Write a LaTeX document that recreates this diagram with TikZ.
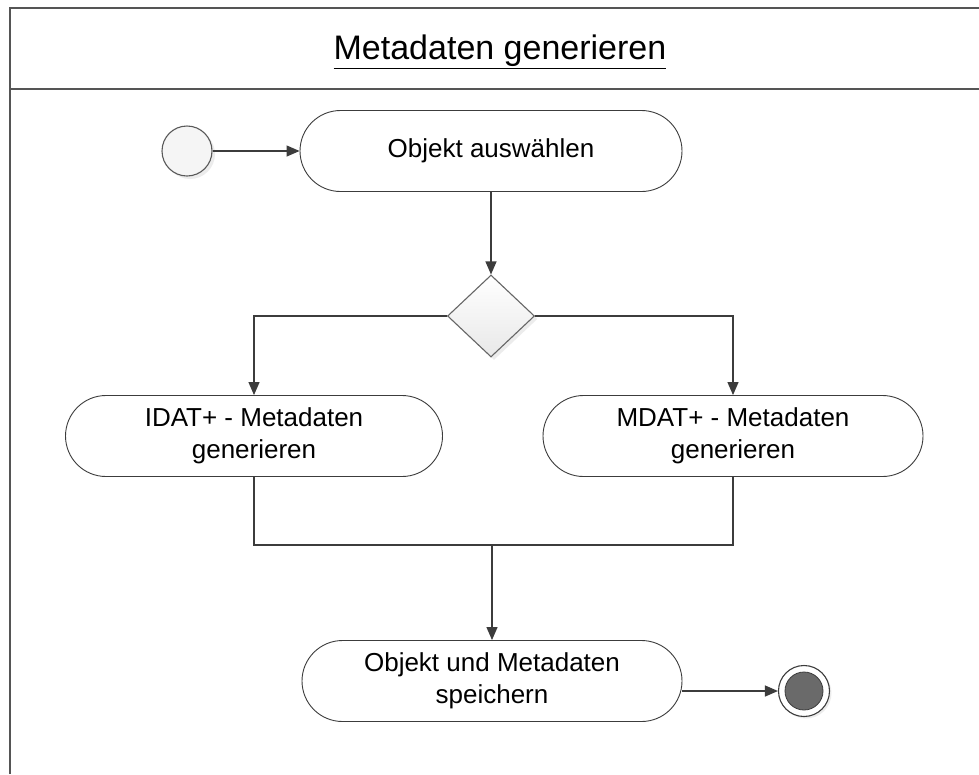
\documentclass[tikz,border=0pt]{standalone}
\usepackage{fontspec}
\setmainfont{Liberation Sans}
\usetikzlibrary{arrows.meta,shapes.misc,shapes.geometric,shadows,calc}

\definecolor{linegray}{HTML}{3C3C3C}
\definecolor{framegray}{HTML}{555555}
\definecolor{endfill}{HTML}{6A6A6A}

\tikzset{
  activity/.style={rounded rectangle, draw=linegray, line width=0.9pt, fill=white,
    minimum height=81pt, align=center, inner sep=0pt,
    font=\fontsize{26}{32}\selectfont},
  flow/.style={draw=linegray, line width=1.2pt},
  arr/.style={flow, -{Triangle[length=13pt,width=11pt]}},
  decision/.style={diamond, draw=gray!80!black, line width=1.1pt,
    top color=white, bottom color=gray!18, minimum width=87pt, minimum height=82pt,
    inner sep=0pt, drop shadow={shadow xshift=3pt, shadow yshift=-3pt, opacity=0.15}},
  startnode/.style={circle, draw=gray!70!black, line width=1.1pt, fill=gray!8,
    minimum size=50pt, inner sep=0pt,
    drop shadow={shadow xshift=3pt, shadow yshift=-3pt, opacity=0.15}},
  framelines/.style={draw=framegray, line width=2pt},
}

\begin{document}
\begin{tikzpicture}[x=1pt, y=-1pt]
  \useasboundingbox (0,0) rectangle (979,774);
  \fill[white] (0,0) rectangle (979,774);

  % partition frame with header row
  \draw[framelines] (10,774) -- (10,8) -- (979,8);
  \draw[framelines] (10,89) -- (979,89);
  \node[font=\fontsize{34}{40}\selectfont] (title) at (500,52) {\underline{Metadaten generieren}};

  % nodes
  \node[startnode] (start) at (187,151) {};
  \node[activity, minimum width=382pt] (obj) at (491,151) {Objekt auswählen};
  \node[decision] (dec) at (491,316) {};
  \node[activity, minimum width=377pt] (idat) at (254,436) {IDAT+ - Metadaten\\generieren};
  \node[activity, minimum width=380pt] (mdat) at (733,436) {MDAT+ - Metadaten\\generieren};
  \node[activity, minimum width=380pt] (store) at (492,681) {Objekt und Metadaten\\speichern};
  \node[circle, draw=linegray, line width=1.1pt, fill=white, minimum size=51pt, inner sep=0pt,
    drop shadow={shadow xshift=2pt, shadow yshift=-2pt, opacity=0.15}] (end) at (804,691) {};
  \node[circle, draw=linegray, line width=0.8pt, fill=endfill, minimum size=38pt, inner sep=0pt] (endin) at (end.center) {};
  \coordinate (join) at (492,545);

  % connectors
  \draw[arr] (start) -- (obj);
  \draw[arr] (obj.south) -- (dec.north);
  \draw[arr] (dec.west) -| (idat.north);
  \draw[arr] (dec.east) -| (mdat.north);
  \draw[flow] (idat.south) -- (idat.south |- join) -- (mdat.south |- join) -- (mdat.south);
  \draw[arr] (join) -- (store.north);
  \draw[arr] (store.east |- end.west) -- (end.west);
\end{tikzpicture}
\end{document}
